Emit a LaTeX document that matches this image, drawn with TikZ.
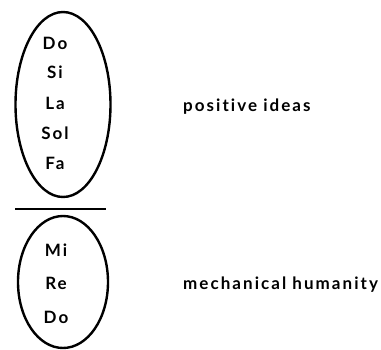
\documentclass[tikz,border=0pt]{standalone}
\usepackage{fontspec}
\setmainfont{Lato}[LetterSpace=12,Ligatures={NoCommon}]
\usetikzlibrary{shapes.geometric}
\begin{document}
\begin{tikzpicture}[x=1pt,y=-1pt,
  oval/.style={draw,line width=2.4pt,ellipse,inner sep=0pt},
  note/.style={font=\fontsize{17}{19}\selectfont\bfseries,inner sep=0pt},
  lbl/.style={font=\fontsize{17}{19}\selectfont\bfseries,anchor=west,inner sep=0pt}]
\useasboundingbox (0,0) rectangle (381,349);
\node[oval,minimum width=95pt,minimum height=185pt] (upper) at (63,104.5) {};
\node[oval,minimum width=90pt,minimum height=132pt] (lower) at (63,282) {};
\draw[line width=2.4pt] (15,209) coordinate (l1) -- (106,209) coordinate (l2);
\node[note] (n1) at (55,43) {Do};
\node[note] (n2) at (55,72) {Si};
\node[note] (n3) at (55,103) {La};
\node[note] (n4) at (55,133) {Sol};
\node[note] (n5) at (55,163) {Fa};
\node[note] (m1) at (56,250) {Mi};
\node[note] (m2) at (56,283) {Re};
\node[note] (m3) at (56,317) {Do};
\node[lbl] (pos) at (183,107) {positive ideas};
\node[lbl] (mech) at (183,285) {mechanical humanity};
\end{tikzpicture}
\end{document}
